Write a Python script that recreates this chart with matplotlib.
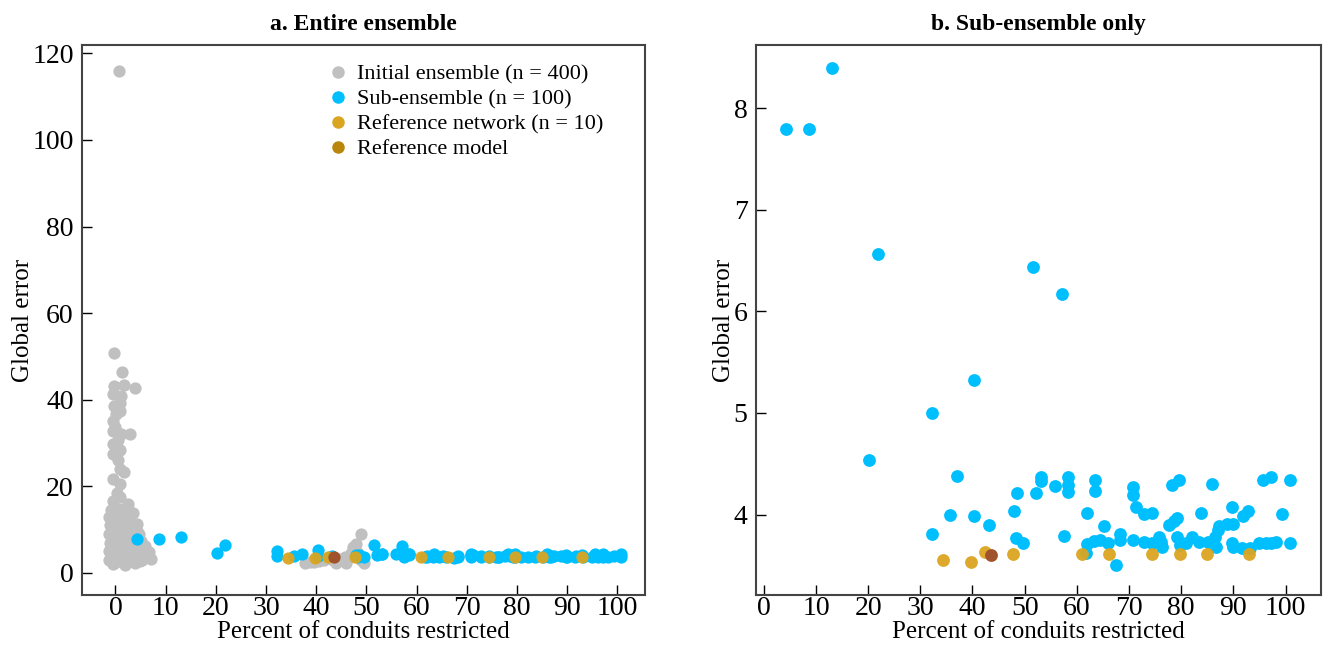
import matplotlib
matplotlib.use("Agg")
import matplotlib.pyplot as plt
from matplotlib.lines import Line2D

plt.rcParams['font.family'] = ['Liberation Serif', 'DejaVu Serif']

# Initial ensemble (grey) - only the visible part of the cloud in panel a
init_x = [0.8, -0.3, 1.3, -0.3, 1.8, 3.9, -0.5, 1.2, 0.9, 0.2, 0.9, -0.5, -0.5, 1.2, 2.9,
          -0.5, -0.5, 0.9, 1.8, -0.5, 0.9, -0.5, 2.5, 2.9, 0.3, 0.6, 0.0, -0.2, 0.5, 1.0,
          -1.2, 0.2, 1.5, 2.7, -1.0, 0.5, 2.0, 3.3, 4.3, -1.3, 0.0, 1.2, 2.4, 3.6, 4.8,
          -1.1, 0.3, 1.6, 2.8, 4.0, 5.0, -1.3, 0.0, 1.3, 2.6, 3.9, 5.1, 6.3, -1.2, 0.1,
          1.4, 2.7, 4.0, 5.3, -0.4, 1.9, 3.3, 4.6, 0.8, -0.6, 3.0, 5.6, 2.2, 3.4, 1.0,
          -0.8, 0.6, 2.1, 3.5, 4.4, 5.8, 6.6, 7.0, 1.7, 2.3, 3.1, 0.4, -0.9, 4.9, 2.9,
          37.8, 38.8, 40.5, 42.7, 43.4, 44.7, 45.7, 46.7, 47.4, 47.9, 48.9, 48.9, 49.6,
          46.0, 44.0, 47.0, 48.3, 41.5, 39.6]
init_y = [116.0, 50.8, 46.4, 43.1, 43.5, 42.8, 41.4, 40.8, 39.3, 36.6, 37.4, 35.1, 32.8, 32.0, 32.0,
          29.7, 27.4, 24.0, 23.2, 21.7, 20.5, 16.7, 15.9, 14.0, 18.5, 26.0, 33.8, 38.5, 30.8, 28.5,
          13.0, 12.6, 13.2, 12.0, 11.0, 10.5, 10.8, 10.2, 11.2, 9.0, 8.6, 9.3, 8.8, 8.2, 9.0,
          7.0, 6.6, 7.2, 6.8, 6.3, 7.4, 5.0, 4.6, 5.3, 4.9, 4.5, 5.2, 3.7, 3.0, 2.6,
          3.2, 2.8, 2.4, 3.0, 2.0, 1.9, 3.6, 3.9, 11.8, 12.2, 5.9, 4.2, 15.0, 10.0, 17.5,
          14.5, 14.8, 12.4, 13.8, 9.8, 6.2, 4.9, 3.3, 6.0, 4.0, 8.0, 7.8, 5.8, 2.7, 10.9,
          2.4, 2.5, 2.8, 3.7, 2.9, 3.2, 3.7, 3.7, 5.9, 6.7, 9.0, 3.0, 2.2,
          2.4, 2.3, 4.6, 4.5, 3.0, 2.6]

# Sub-ensemble (blue)
sub_x = [4.3, 8.7, 13.1, 20.2, 21.9, 32.2, 32.2, 35.6, 37.1, 40.3, 40.3, 43.2, 48.0, 48.6,
         48.3, 49.6, 51.6, 52.1, 53.1, 53.1, 55.9, 57.1, 57.5, 58.4, 58.4, 58.4, 61.7, 62.0,
         62.0, 63.2, 63.5, 63.5, 64.5, 65.3, 65.9, 67.5, 68.3, 68.2, 70.8, 70.8, 71.3, 70.8,
         72.8, 74.5, 72.9, 74.5, 75.8, 76.4, 76.2, 78.3, 79.6, 77.7, 78.7, 79.2, 79.2, 79.7,
         80.9, 82.1, 83.5, 83.8, 85.1, 85.9, 86.4, 86.7, 87.0, 87.3, 88.7, 89.9, 89.8, 89.7,
         89.9, 91.6, 91.8, 92.9, 93.1, 95.6, 97.2, 99.3, 100.8, 95.0, 96.2, 97.2, 98.2, 100.8]
sub_y = [7.79, 7.79, 8.39, 4.54, 6.56, 5.00, 3.81, 4.00, 4.38, 5.32, 3.99, 3.90, 4.04, 4.21,
         3.77, 3.72, 6.44, 4.21, 4.37, 4.33, 4.28, 6.17, 3.79, 4.37, 4.29, 4.22, 3.62, 4.02,
         3.71, 3.74, 4.34, 4.23, 3.75, 3.89, 3.72, 3.50, 3.81, 3.75, 4.27, 4.19, 4.07, 3.75,
         4.01, 4.02, 3.73, 3.72, 3.78, 3.68, 3.73, 4.29, 4.34, 3.90, 3.94, 3.97, 3.78, 3.70,
         3.72, 3.78, 3.73, 4.02, 3.73, 4.30, 3.78, 3.68, 3.85, 3.89, 3.91, 3.91, 4.07, 3.72,
         3.68, 3.67, 3.99, 4.04, 3.67, 4.34, 4.37, 4.01, 4.34, 3.72, 3.72, 3.72, 3.73, 3.72]

# Reference network (gold) and reference model
ref_x = [34.4, 39.8, 42.4, 47.8, 60.9, 66.2, 74.4, 79.7, 85.0, 93.0]
ref_y = [3.55, 3.53, 3.63, 3.61, 3.61, 3.61, 3.61, 3.61, 3.61, 3.61]
model_x = [43.5]
model_y = [3.60]

c_init = '#C0C0C0'
c_sub = '#00BFFF'
c_ref = '#DAA520'
c_model = '#A0522D'
c_model_leg = '#B8860B'

fig = plt.figure(figsize=(13.23, 6.53), dpi=100)
ax1 = fig.add_axes([0.062, 0.089, 0.4255, 0.842])
ax2 = fig.add_axes([0.5714, 0.089, 0.4271, 0.842])


def style(ax):
    for s in ax.spines.values():
        s.set_color('#444444')
        s.set_linewidth(1.5)
    ax.tick_params(direction='in', length=7, width=1, labelsize=20, pad=6,
                   top=False, right=False)
    ax.tick_params(axis='x', pad=1)
    ax.set_xticks(range(0, 101, 10))
    ax.set_xlabel('Percent of conduits restricted', fontsize=18, labelpad=0)
    ax.set_ylabel('Global error', fontsize=18, labelpad=-1)


# panel a
ax1.scatter(init_x, init_y, s=78, color=c_init, linewidths=0, zorder=2)
ax1.scatter(sub_x, sub_y, s=78, color=c_sub, linewidths=0, zorder=3)
ax1.scatter(ref_x, ref_y, s=78, color=c_ref, linewidths=0, alpha=0.95, zorder=4)
ax1.scatter(model_x, model_y, s=78, color=c_model, linewidths=0, zorder=5)
ax1.set_xlim(-6.65, 105.5)
ax1.set_ylim(-5.06, 121.9)
ax1.set_yticks(range(0, 121, 20))
style(ax1)
ax1.set_title('a. Entire ensemble', fontsize=17, fontweight='bold', pad=11)

handles = [
    Line2D([], [], marker='o', linestyle='', color=c_init, markersize=8),
    Line2D([], [], marker='o', linestyle='', color=c_sub, markersize=8),
    Line2D([], [], marker='o', linestyle='', color=c_ref, markersize=8),
    Line2D([], [], marker='o', linestyle='', color=c_model_leg, markersize=8),
]
labels = ['Initial ensemble (n = 400)', 'Sub-ensemble (n = 100)',
          'Reference network (n = 10)', 'Reference model']
ax1.legend(handles, labels, loc='upper left', bbox_to_anchor=(0.415, 0.99),
           frameon=False, fontsize=16, handlelength=0.8, handletextpad=0.45,
           labelspacing=0.2, borderaxespad=0.2)

# panel b
ax2.scatter(sub_x, sub_y, s=85, color=c_sub, linewidths=0, zorder=3)
ax2.scatter(ref_x, ref_y, s=85, color=c_ref, linewidths=0, alpha=0.95, zorder=4)
ax2.scatter(model_x, model_y, s=85, color=c_model, linewidths=0, zorder=5)
ax2.set_xlim(-1.5, 106.8)
ax2.set_ylim(3.21, 8.62)
ax2.set_yticks([4, 5, 6, 7, 8])
style(ax2)
ax2.set_title('b. Sub-ensemble only', fontsize=17, fontweight='bold', pad=11)

fig.savefig('out.png', dpi=100)
